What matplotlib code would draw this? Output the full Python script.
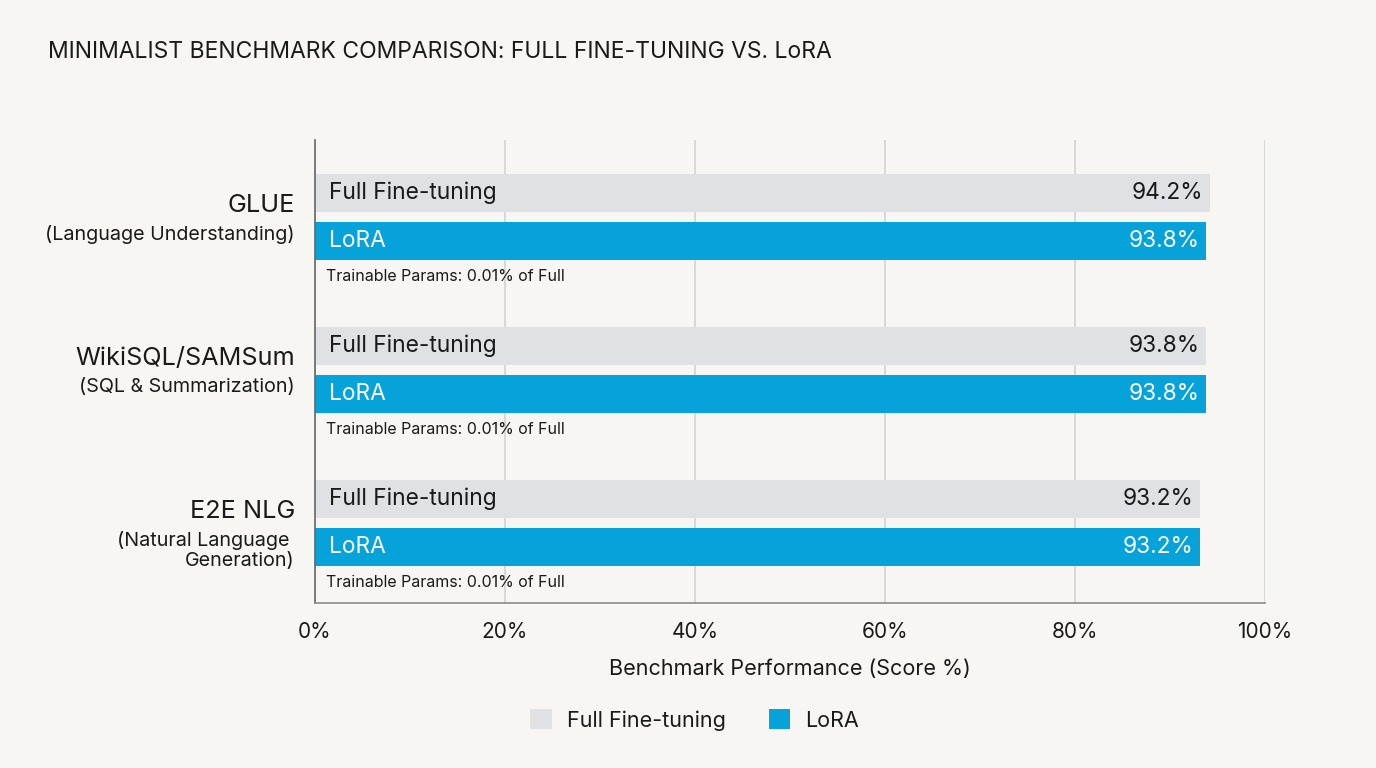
import matplotlib
matplotlib.use("Agg")
import matplotlib.pyplot as plt
import numpy as np
from matplotlib.patches import Patch

plt.rcParams['font.family'] = ['Inter', 'DejaVu Sans']

# data
benchmarks = ['GLUE', 'WikiSQL/SAMSum', 'E2E NLG']
subtitles = ['(Language Understanding)', '(SQL & Summarization)', '(Natural Language \nGeneration)']
full_ft = [94.2, 93.8, 93.2]
lora = [93.8, 93.8, 93.2]
param_notes = ['Trainable Params: 0.01% of Full'] * 3
xticks = [0, 20, 40, 60, 80, 100]

bg = '#f7f6f2'
c_full = '#dfe1e5'
c_lora = '#05a3d9'
txt = '#1a1a1a'

fig = plt.figure(figsize=(13.76, 7.68), dpi=100, facecolor=bg)
ax = fig.add_axes([315/1376, 1 - 603/768, 950/1376, 463/768])
ax.set_facecolor(bg)

y = np.arange(len(benchmarks))
off = 0.157
h = 0.25
ax.barh(y - off, full_ft, height=h, color=c_full, zorder=2)
ax.barh(y + off, lora, height=h, color=c_lora, zorder=2)

for i in range(len(benchmarks)):
    ax.text(1.5, y[i] - off, 'Full Fine-tuning', va='center', ha='left', fontsize=16.4, color=txt, zorder=3)
    ax.text(1.5, y[i] + off, 'LoRA', va='center', ha='left', fontsize=16.4, color='white', zorder=3)
    ax.text(full_ft[i] - 0.7, y[i] - off, f'{full_ft[i]:.1f}%', va='center', ha='right', fontsize=16.4, color=txt, zorder=3)
    ax.text(lora[i] - 0.7, y[i] + off, f'{lora[i]:.1f}%', va='center', ha='right', fontsize=16.4, color='white', zorder=3)
    ax.text(1.2, y[i] + 0.386, param_notes[i], va='center', ha='left', fontsize=11.5, color=txt, zorder=3)
    ax.text(-0.021, y[i] - 0.075, benchmarks[i], transform=ax.get_yaxis_transform(),
            va='center', ha='right', fontsize=18.2, color=txt)
    ax.text(-0.021, y[i] + 0.05, subtitles[i], transform=ax.get_yaxis_transform(),
            va='top', ha='right', fontsize=14.2, color=txt, linespacing=1.2)

ax.set_xlim(0, 100)
ax.set_ylim(2.523, -0.503)
ax.set_xticks(xticks)
ax.set_xticklabels([f'{t}%' for t in xticks], fontsize=15, color=txt)
ax.set_yticks([])
ax.tick_params(axis='x', length=0, pad=14)
ax.grid(axis='x', color='#d2d2d0', linewidth=1.2, zorder=0)
ax.set_axisbelow(True)
for s in ['top', 'right']:
    ax.spines[s].set_visible(False)
ax.spines['left'].set_color('#666666')
ax.spines['left'].set_linewidth(1.2)
ax.spines['bottom'].set_color('#8a8a8a')
ax.spines['bottom'].set_linewidth(1.2)
ax.set_xlabel('Benchmark Performance (Score %)', fontsize=15.5, color=txt, labelpad=12)

fig.text(48/1376, 1 - 52/768, 'MINIMALIST BENCHMARK COMPARISON: FULL FINE-TUNING VS. LoRA',
         fontsize=16.5, color=txt, va='center', ha='left')

handles = [Patch(facecolor=c_full, label='Full Fine-tuning'), Patch(facecolor=c_lora, label='LoRA')]
fig.legend(handles=handles, loc='center', bbox_to_anchor=(0.505, 1 - 720/768), ncol=2,
           frameon=False, fontsize=15.5, handlelength=1.0, handleheight=1.0,
           columnspacing=2.0, handletextpad=0.7, labelcolor=txt)

fig.savefig('out.png', dpi=100, facecolor=bg)
